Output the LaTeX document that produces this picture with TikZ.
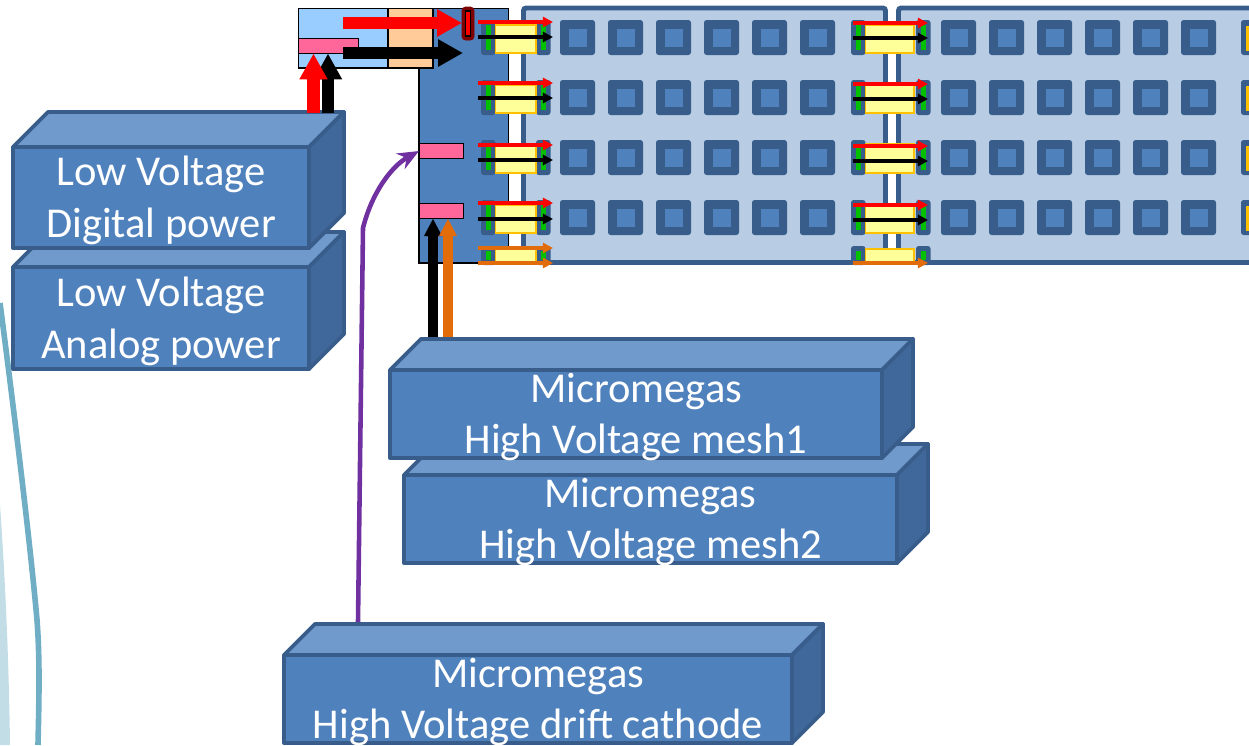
\documentclass[tikz,border=0pt]{standalone}
\usepackage{fontspec}
\setmainfont{Carlito}
\usetikzlibrary{arrows.meta}
\definecolor{bleu}{HTML}{4F81BD}
\definecolor{bleuhaut}{HTML}{7099CC}
\definecolor{bleucote}{HTML}{41689B}
\definecolor{bleufonce}{HTML}{385D8A}
\definecolor{panneau}{HTML}{B8CCE4}
\definecolor{ciel}{HTML}{99CCFF}
\definecolor{peche}{HTML}{FFCC99}
\definecolor{rose}{HTML}{FF6699}
\definecolor{jaune}{HTML}{FFFF99}
\definecolor{or}{HTML}{FFC000}
\definecolor{vert}{HTML}{00C000}
\definecolor{orange}{HTML}{E36C0A}
\definecolor{violet}{HTML}{7030A0}
\definecolor{sarcelle}{HTML}{6FAEC5}
\definecolor{pale}{HTML}{C2DDE6}
\definecolor{bordeaux}{HTML}{7F0000}
\tikzset{
    every node/.style={outer sep=0pt},
    face/.style={fill=#1, draw=bleufonce, line width=2.2pt, line join=round},
    avant/.style={face=bleu, inner sep=0pt},
    titre/.style={text=white, inner sep=0pt, align=center, yshift=-3*0.02cm,
        font=\fontsize{24.2}{29.5}\selectfont},
    prise/.style={fill=rose, draw=black, line width=1.1pt, inner sep=0pt},
    fleche/.style={-{Triangle[length=5.7pt,width=5.7pt]}, line width=2.2pt},
    grosse/.style={-{Triangle[length=14.2pt,width=14.7pt]}, line width=6.9pt},
    montee/.style={-{Triangle[length=14.7pt,width=15pt]}, line width=6.9pt},
    montee2/.style={-{Triangle[length=10pt,width=9.5pt]}, line width=5.6pt},
}
% boite 3D : nom, x, y, largeur, hauteur, profondeur, texte
\newcommand{\boite}[7]{
    \node[avant, minimum width=#4*0.02cm, minimum height=#5*0.02cm, anchor=north west] (#1) at (#2,#3) {};
    \draw[face=bleuhaut] (#1.north west) -- ++(#6,-#6) -- ++(#4,0) -- (#1.north east) -- cycle;
    \draw[face=bleucote] (#1.north east) -- ++(#6,-#6) -- ++(0,#5) -- (#1.south east) -- cycle;
    \node[titre] (#1titre) at (#1) {#7};
}
% connecteur : x gauche, ecart des pattes, y du haut, hauteur, retrait du jaune en haut, fin du jaune
\newcommand{\connecteur}[6]{
    \fill[bleufonce, rounded corners=1.5pt] (#1,#3) rectangle ++(14.5,#4);
    \fill[bleufonce, rounded corners=1.5pt] (#1+#2,#3) rectangle ++(14.5,#4);
    \fill[vert] (#1+5,#3+5) rectangle ++(4.5,#4-10);
    \fill[vert] (#1+#2+5,#3+5) rectangle ++(4.5,#4-10);
    \draw[fill=jaune, draw=or, line width=0.7pt] (#1+14.5,#3+#5) rectangle (#6,#3+#4-2);
}
\begin{document}
\begin{tikzpicture}[x=0.02cm,y=-0.02cm]
    \useasboundingbox (0,0) rectangle (1249,745);
    % Fond
    \fill[pale] (0,505) .. controls (6,590) and (9,670) .. (10,745) -- (0,745) -- cycle;
    \draw[sarcelle, line width=3.2pt] (0,303) .. controls (12,395) and (30,540) .. (37,620)
        .. controls (40,660) and (39,700) .. (38,745);
    % Panneaux
    \begin{scope}
        \clip (0,0) rectangle (1249,745);
        \draw[fill=panneau, draw=bleufonce, line width=2.8pt, rounded corners=1.5pt] (523.5,8) rectangle (885.5,262.5);
        \draw[fill=panneau, draw=bleufonce, line width=2.8pt, rounded corners=1.5pt] (898.5,8) rectangle (1270,262.5);
        % Carres
        \foreach \y in {20,80,140,200} {
            \foreach \x in {560,608,656,704,752,800,941,989,1037,1085,1133,1181} {
                \fill[bleufonce, rounded corners=1.5pt] (\x,\y) rectangle ++(35,35);
                \fill[bleu] (\x+9,\y+9) rectangle ++(17.5,17.5);
            }
            \fill[bleufonce, rounded corners=1.5pt] (1241,\y) rectangle ++(20,35);
            \fill[or] (1246,\y+6) rectangle ++(10,25);
        }
    \end{scope}
    % Carte
    \node[draw=black, fill=bleu, line width=1.1pt, minimum width=89.5*0.02cm, minimum height=254.5*0.02cm, anchor=north west] (carte) at (419,8.5) {};
    \node[draw=black, fill=ciel, line width=1.1pt, minimum width=90*0.02cm, minimum height=59.5*0.02cm, anchor=north west] (ciel) at (298.5,8.5) {};
    \node[draw=black, fill=peche, line width=1.1pt, minimum width=45*0.02cm, minimum height=59.5*0.02cm, anchor=north west] (peche) at (388,8.5) {};
    % Connecteurs
    \foreach \y/\h/\t in {20/35/5,80/35/5,140/35/4,200/35/5,246/19/3} {
        \connecteur{481}{55}{\y}{\h}{\t}{536}
        \connecteur{851}{65}{\y}{\h}{\t}{914}
    }
    % Fleches fines
    \foreach \y/\c in {22/red,37/black,83/red,98/black,145/red,160/black,203/red,219/black,248/orange,263/orange}
        \draw[fleche, \c] (478,\y) -- (553,\y);
    \foreach \y/\c in {23/red,38/black,84/red,99/black,146/red,161/black,205/red,220/black,263/orange}
        \draw[fleche, \c] (853,\y) -- (928,\y);
    % Prises
    \node[prise, minimum width=60*0.02cm, minimum height=15*0.02cm, anchor=north west] (priseA) at (298.5,38.5) {};
    \node[prise, minimum width=44.5*0.02cm, minimum height=15*0.02cm, anchor=north west] (priseB) at (419,143.5) {};
    \node[prise, minimum width=44.5*0.02cm, minimum height=15*0.02cm, anchor=north west] (priseC) at (419,203.5) {};
    % Fusible
    \node[draw=bordeaux, fill=bordeaux, rounded corners=2pt, minimum width=12*0.02cm, minimum height=33*0.02cm, inner sep=0pt, anchor=north west] (fusible) at (462,7) {};
    \node[draw=black, fill=red, line width=0.8pt, minimum width=5*0.02cm, minimum height=25*0.02cm, inner sep=0pt] (fil) at (fusible) {};
    % Boites
    \boite{analog}{13}{267}{296}{102}{35}{Low Voltage\\Analog power}
    \boite{digital}{13}{147}{296}{101}{35}{Low Voltage\\Digital power}
    \boite{meshB}{404}{475}{493}{88}{31}{Micromegas\\High Voltage mesh2}
    \boite{meshA}{390}{370}{492}{88}{31}{Micromegas\\High Voltage mesh1}
    \boite{drift}{284}{655}{508}{88}{31}{Micromegas\\High Voltage drift cathode}
    % Grosses fleches
    \coordinate (depart) at (343,23);
    \coordinate (departB) at (343,53);
    \coordinate (ventre) at (463,53);
    \draw[grosse, red] (depart) -- (fusible.west |- depart);
    \draw[grosse, black] (departB) -- (ventre);
    % Alimentations
    \coordinate (piedR) at (313.5,113);
    \coordinate (piedN) at (328,113);
    \coordinate (piedA) at (433,337);
    \coordinate (piedO) at (448,337);
    \coordinate (piedV) at (358,622);
    \draw[montee, black] (piedN) -- (piedN |- priseA.south);
    \draw[montee, red] (piedR) -- (piedR |- priseA.south);
    \draw[montee2, black] (piedA) -- (piedA |- priseC.south);
    \draw[montee2, orange] (piedO) -- (piedO |- priseC.south);
    \draw[-{Stealth[length=12pt,width=10pt]}, violet, line width=2.6pt] (piedV) -- (363,228)
        .. controls (372,192) and (392,166) .. (priseB.west);
\end{tikzpicture}
\end{document}
